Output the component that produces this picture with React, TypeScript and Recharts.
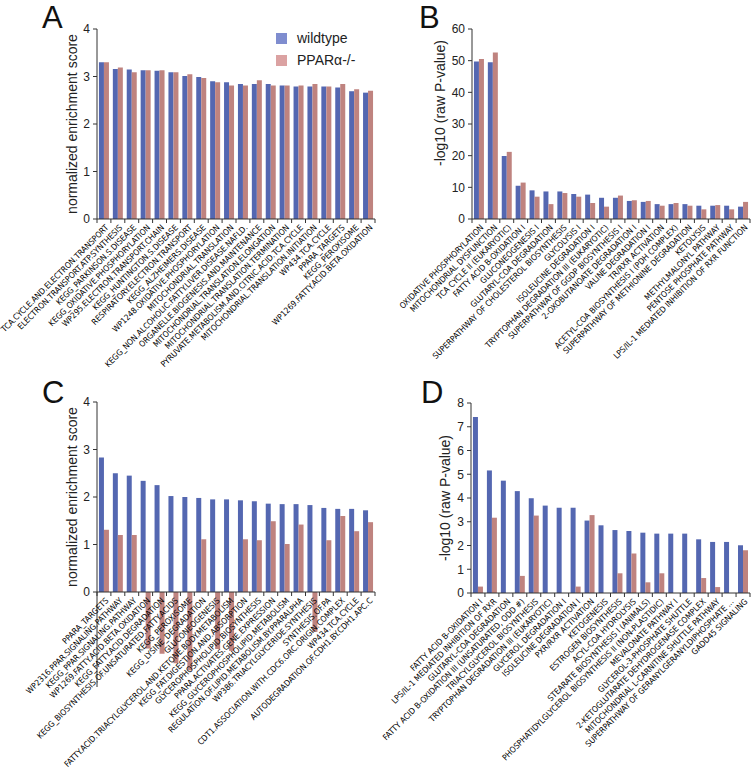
import { BarChart, Bar, XAxis, YAxis } from 'recharts'

const BLUE = '#5467b1'
const RED = '#bf837f'
const LEGEND_BLUE = '#7f8dcf'
const LEGEND_RED = '#dba2a2'
const AXIS = '#333'
const LABEL_FONT = '"Liberation Sans Narrow", "Arial Narrow", "DejaVu Sans Condensed", sans-serif'
const FONT = '"Liberation Sans", Arial, sans-serif'

// A: GSEA, top pathways shared by both genotypes
const pathwaysA = [
  'TCA.CYCLE.AND.ELECTRON.TRANSPORT',
  'ELECTRON.TRANSPORT.ATP.SYNTHESIS',
  'KEGG_PARKINSON.S.DISEASE',
  'KEGG_OXIDATIVE.PHOSPHORYLATION',
  'WP295.ELECTRON.TRANSPORT.CHAIN',
  'KEGG_HUNTINGTON.S.DISEASE',
  'RESPIRATORY.ELECTRON.TRANSPORT',
  'KEGG_ALZHEIMERS.DISEASE',
  'WP1248.OXIDATIVE.PHOSPHORYLATION',
  'MITOCHONDRIAL.TRANSLATION',
  'KEGG_NON.ALCOHOLIC.FATTY.LIVER.DISEASE.NAFLD.',
  'ORGANELLE.BIOGENESIS.AND.MAINTENANCE',
  'MITOCHONDRIAL.TRANSLATION.ELONGATION',
  'MITOCHONDRIAL.TRANSLATION.TERMINATION',
  'PYRUVATE.METABOLISM.AND.CITRIC.ACID.TCA.CYCLE',
  'MITOCHONDRIAL.TRANSLATION.INITIATION',
  'WP434.TCA.CYCLE',
  'PPARA_TARGETS',
  'KEGG_PEROXISOME',
  'WP1269.FATTY.ACID.BETA.OXIDATION',
]
const wildtypeA = [3.3, 3.16, 3.15, 3.13, 3.12, 3.09, 3.01, 2.99, 2.9, 2.88, 2.84, 2.84, 2.84, 2.81, 2.79, 2.79, 2.79, 2.77, 2.69, 2.66]
const knockoutA = [3.3, 3.19, 3.09, 3.13, 3.13, 3.09, 3.05, 2.97, 2.88, 2.81, 2.81, 2.92, 2.81, 2.81, 2.81, 2.84, 2.79, 2.84, 2.73, 2.7]

// B: IPA canonical pathways, shared
const pathwaysB = [
  'OXIDATIVE  PHOSPHORYLATION',
  'MITOCHONDRIAL  DYSFUNCTION',
  'TCA CYCLE  II (EUKARYOTIC)',
  'FATTY ACID B-OXIDATION  I',
  'GLUCONEOGENESIS  I',
  'GLUTARYL-COA  DEGRADATION',
  'SUPERPATHWAY  OF CHOLESTEROL  BIOSYNTHESIS',
  'GLYCOLYSIS  I',
  'ISOLEUCINE  DEGRADATION  I',
  'TRYPTOPHAN DEGRADATION  III (EUKARYOTIC)',
  'SUPERPATHWAY  OF GGDP BIOSYNTHESIS  I',
  '2-OXOBUTANOATE  DEGRADATION  I',
  'VALINE  DEGRADATION  I',
  'TR/RXR  ACTIVATION',
  'ACETYL-COA  BIOSYNTHESIS  I (PDH  COMPLEX)',
  'SUPERPATHWAY  OF METHIONINE  DEGRADATION',
  'KETOLYSIS',
  'METHYLMALONYL  PATHWAY',
  'PENTOSE  PHOSPHATE  PATHWAY',
  'LPS/IL-1  MEDIATED  INHIBITION  OF RXR FUNCTION',
]
const wildtypeB = [49.7, 49.5, 19.9, 10.5, 9.05, 8.7, 8.7, 7.9, 7.7, 6.7, 6.7, 5.7, 5.4, 4.7, 4.7, 4.7, 4.2, 4.2, 4.2, 3.9]
const knockoutB = [50.5, 52.6, 21.2, 11.5, 7.05, 4.7, 8.2, 7.05, 5.05, 3.9, 7.4, 5.9, 5.7, 4.2, 5.05, 4.2, 3.05, 4.4, 3.05, 5.4]

// C: GSEA, wildtype-specific
const pathwaysC = [
  'PPARA_TARGETS',
  'WP2316.PPAR.SIGNALING.PATHWAY',
  'KEGG_PPAR.SIGNALING.PATHWAY',
  'WP1269.FATTY.ACID.BETA.OXIDATION',
  'KEGG_FATTY.ACID.DEGRADATION',
  'KEGG_BIOSYNTHESIS.OF.UNSATURATED.FATTY.ACIDS',
  'KEGG_PEROXISOME',
  'KEGG_LYSINE_DEGRADATION',
  'GLUCONEOGENESIS',
  'FATTY.ACID.TRIACYLGLYCEROL.AND.KETONE.BODY.METABOLISM',
  'KEGG_FAT.DIGESTION.AND.ABSORPTION',
  'GLYCEROPHOSPHOLIPID.BIOSYNTHESIS',
  'PPARA.ACTIVATES.GENE.EXPRESSION',
  'KEGG_GLYCEROPHOSPHOLIPID.METABOLISM',
  'REGULATION.OF.LIPID.METABOLISM.BY.PPARALPHA',
  'WP386.TRIACYLGLYCERIDE.SYNTHESIS',
  'SYNTHESIS.OF.PA',
  'CDT1.ASSOCIATION.WITH.CDC6.ORC.ORIGIN.COMPLEX',
  'WP434.TCA.CYCLE',
  'AUTODEGRADATION.OF.CDH1.BY.CDH1.APC.C',
]
const wildtypeC = [2.83, 2.5, 2.45, 2.34, 2.25, 2.02, 2.0, 1.98, 1.95, 1.95, 1.93, 1.91, 1.86, 1.85, 1.85, 1.83, 1.77, 1.75, 1.75, 1.72]
const knockoutC = [1.31, 1.2, 1.2, -1.19, -1.3, -1.5, -1.65, 1.11, -1.2, -1.24, 1.11, 1.09, 1.49, 1.01, 1.42, -0.84, 1.09, 1.6, 1.28, 1.47]

// D: IPA canonical pathways, wildtype-specific
const pathwaysD = [
  'FATTY ACID B-OXIDATION  I',
  'LPS/IL-1  MEDIATED  INHIBITION  OF RXR',
  'GLUTARYL-COA  DEGRADATION',
  'FATTY ACID B-OXIDATION III (UNSATURATED,  ODD #)',
  'TRIACYLGLYCEROL  BIOSYNTHESIS',
  'TRYPTOPHAN DEGRADATION  III (EUKARYOTIC)',
  'GLYCEROL  DEGRADATION  I',
  'ISOLEUCINE  DEGRADATION  I',
  'PXR/RXR  ACTIVATION',
  'KETOGENESIS',
  'ESTROGEN  BIOSYNTHESIS',
  'ACYL-COA  HYDROLYSIS',
  'STEARATE  BIOSYNTHESIS  I (ANIMALS)',
  'PHOSPHATIDYLGLYCEROL  BIOSYNTHESIS  II (NON-PLASTIDIC)',
  'MEVALONATE  PATHWAY  I',
  'GLYCEROL-3-PHOSPHATE  SHUTTLE',
  '2-KETOGLUTARATE  DEHYDROGENASE  COMPLEX',
  'MITOCHONDRIAL  L-CARNITINE  SHUTTLE PATHWAY',
  'SUPERPATHWAY  OF GERANYLGERANYLDIPHOSPHATE ...',
  'GADD45  SIGNALING',
]
const wildtypeD = [7.41, 5.16, 4.73, 4.29, 3.99, 3.68, 3.59, 3.59, 3.05, 2.85, 2.65, 2.61, 2.54, 2.5, 2.5, 2.5, 2.26, 2.15, 2.15, 2.01]
const knockoutD = [0.27, 3.17, null, 0.72, 3.26, null, null, 0.27, 3.28, null, 0.83, 1.66, 0.45, 0.83, null, null, 0.63, 0.25, null, 1.8]

const ticksNES = [0, 1, 2, 3, 4]
const ticksB = [0, 10, 20, 30, 40, 50, 60]
const ticksD = [0, 1, 2, 3, 4, 5, 6, 7, 8]

const legendItems = [
  { label: 'wildtype', color: LEGEND_BLUE },
  { label: 'PPARα-/-', color: LEGEND_RED },
]

function toRows(names: string[], wt: (number | null)[], ko: (number | null)[]) {
  return names.map((name, i) => ({ name, wt: wt[i], ko: ko[i] }))
}

function CategoryTick(props: any) {
  const { x, y, payload, index, visibleTicksCount, axisExtension } = props
  const half = payload?.offset ?? 0
  const left = x - half
  const tx = x + 3
  const ty = y + 7
  return (
    <g>
      <line x1={left} x2={left} y1={y} y2={y + 4} stroke={AXIS} />
      {index === visibleTicksCount - 1 && (
        <line x1={x + half} x2={x + half} y1={y} y2={y + 4} stroke={AXIS} />
      )}
      {axisExtension > 0 && index === 0 && (
        <line x1={left} x2={left} y1={y} y2={y + axisExtension} stroke={AXIS} />
      )}
      <text
        x={tx}
        y={ty}
        transform={`rotate(-45 ${tx} ${ty})`}
        textAnchor="end"
        dominantBaseline="central"
        fontSize={8.3}
        fontFamily={LABEL_FONT}
        fill="#000"
      >
        {payload.value}
      </text>
    </g>
  )
}

function yTitle(text: string, dx: number, dy = 0) {
  return (props: any) => {
    const vb = props.viewBox || {}
    const cx = (vb.x ?? 0) + dx
    const cy = (vb.y ?? 0) + (vb.height ?? 0) / 2 + dy
    return (
      <text
        x={cx}
        y={cy}
        transform={`rotate(-90 ${cx} ${cy})`}
        textAnchor="middle"
        dominantBaseline="central"
        fontSize={14}
        fontFamily={FONT}
        fill="#222"
      >
        {text}
      </text>
    )
  }
}

function LegendBox() {
  return (
    <div style={{ position: 'absolute', left: 276, top: 27, fontFamily: FONT, fontSize: 14, color: '#222' }}>
      {legendItems.map((it) => (
        <div key={it.label} style={{ display: 'flex', alignItems: 'center', height: 22 }}>
          <span style={{ width: 11, height: 11, background: it.color, marginRight: 10 }} />
          <span>{it.label}</span>
        </div>
      ))}
    </div>
  )
}

interface PanelProps {
  rows: { name: string; wt: number | null; ko: number | null }[]
  ticks: number[]
  title: string
  titleDx: number
  titleDy?: number
  yWidth: number
  top: number
  height: number
  right: number
  overflow?: boolean
}

function Panel({ rows, ticks, title, titleDx, titleDy = 0, yWidth, top, height, right, overflow }: PanelProps) {
  const plotH = 190
  return (
    <BarChart
      width={377}
      height={height}
      data={rows}
      margin={{ top, right, left: 0, bottom: 0 }}
      barGap={0}
      barCategoryGap="14%"
    >
      <XAxis
        dataKey="name"
        interval={0}
        tickLine={false}
        tickSize={0}
        tickMargin={0}
        height={height - top - plotH}
        axisLine={{ stroke: AXIS }}
        tick={<CategoryTick axisExtension={overflow ? 95 : 0} />}
      />
      <YAxis
        width={yWidth}
        domain={[ticks[0], ticks[ticks.length - 1]]}
        ticks={ticks}
        allowDataOverflow={overflow}
        interval={0}
        tickSize={4}
        tickMargin={3}
        axisLine={{ stroke: AXIS }}
        tickLine={{ stroke: AXIS }}
        tick={{ fontSize: 12, fill: '#222', fontFamily: FONT }}
        label={yTitle(title, titleDx, titleDy)}
      />
      <Bar dataKey="wt" name="wildtype" fill={BLUE} isAnimationActive={false} />
      <Bar dataKey="ko" name="PPARα-/-" fill={RED} isAnimationActive={false} />
    </BarChart>
  )
}

export default function App() {
  return (
    <div style={{ position: 'relative', width: 754, height: 768, background: '#fff' }}>
      <style>{`
        body { margin: 0; }
        .panel-c .recharts-bar-rectangles, .panel-c .recharts-bar { clip-path: none !important; }
      `}</style>
      <svg width={754} height={768} style={{ position: 'absolute', left: 0, top: 0 }}>
        <g fontFamily={FONT} fontSize={31} fill="#111">
          <text x={42} y={28}>A</text>
          <text x={419} y={28}>B</text>
          <text x={42} y={403}>C</text>
          <text x={421} y={403}>D</text>
        </g>
      </svg>
      <div style={{ position: 'absolute', left: 0, top: 0 }}>
        <Panel rows={toRows(pathwaysA, wildtypeA, knockoutA)} ticks={ticksNES} title="normalized enrichment score"
          titleDx={72} yWidth={97} top={29} height={385} right={2} />
        <LegendBox />
      </div>
      <div style={{ position: 'absolute', left: 377, top: 0 }}>
        <Panel rows={toRows(pathwaysB, wildtypeB, knockoutB)} ticks={ticksB} title="-log10 (raw P-value)"
          titleDx={63} titleDy={-21} yWidth={95} top={29} height={385} right={4} />
      </div>
      <div className="panel-c" style={{ position: 'absolute', left: 0, top: 380 }}>
        <Panel rows={toRows(pathwaysC, wildtypeC, knockoutC)} ticks={ticksNES} title="normalized enrichment score"
          titleDx={72} yWidth={97} top={22} height={388} right={2} overflow />
      </div>
      <div style={{ position: 'absolute', left: 377, top: 380 }}>
        <Panel rows={toRows(pathwaysD, wildtypeD, knockoutD)} ticks={ticksD} title="-log10 (raw P-value)"
          titleDx={68} yWidth={94} top={23} height={388} right={4} />
      </div>
    </div>
  )
}
